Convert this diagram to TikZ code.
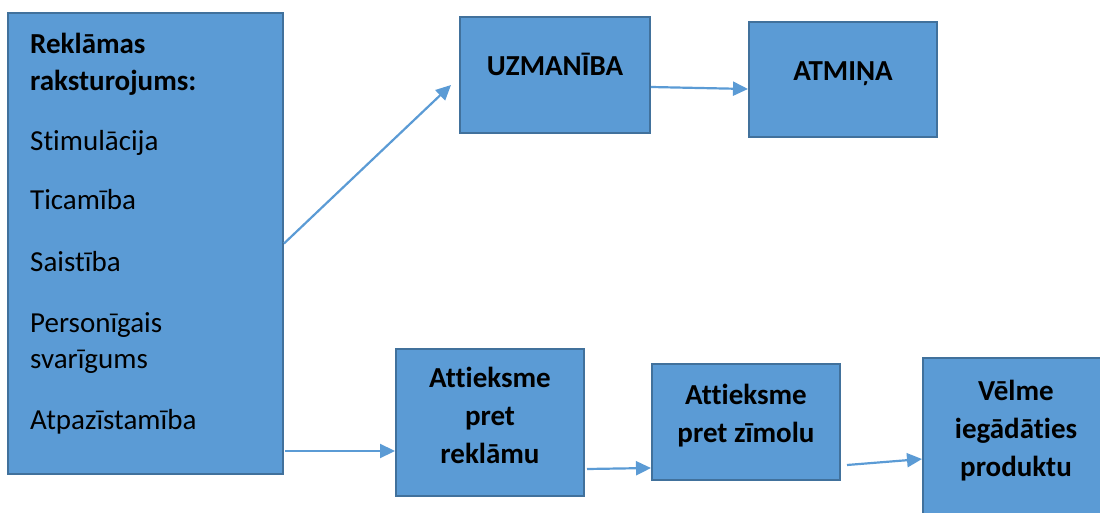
\documentclass[tikz,border=0pt]{standalone}
\usepackage{fontspec}
\setmainfont{Carlito}[Ligatures=NoCommon]
\usetikzlibrary{arrows.meta}
\definecolor{fillblue}{HTML}{5B9BD5}
\definecolor{edgeblue}{HTML}{41719C}
\begin{document}
\begin{tikzpicture}[x=1pt,y=-1pt,
  box/.style={draw=edgeblue, fill=fillblue, line width=2pt, inner sep=0pt},
  conn/.style={draw=fillblue, line width=2.2pt, -{Triangle[length=15pt,width=14pt]}},
  head/.style={font=\fontsize{29}{38}\selectfont\bfseries, align=center, anchor=base, inner sep=0pt},
  item/.style={font=\fontsize{29}{36}\selectfont, anchor=base west, inner sep=0pt},
  itemb/.style={item, font=\fontsize{29}{36}\selectfont\bfseries}]
\useasboundingbox (0,0) rectangle (1100,513);
\clip (0,0) rectangle (1100,513);
% boxes
\node[box, minimum width=275, minimum height=461] (feat) at (145.5,243.5) {};
\node[box, minimum width=190, minimum height=116] (uz) at (555,75) {};
\node[box, minimum width=188, minimum height=115] (at) at (843,79.5) {};
\node[box, minimum width=188, minimum height=147] (r) at (490,422.5) {};
\node[box, minimum width=188, minimum height=116] (z) at (746,422) {};
\node[box, minimum width=188, minimum height=162] (v) at (1017,439) {};
% texts of the left box
\node[itemb] (t1) at (30,54) {Reklāmas};
\node[itemb] (t2) at (30,91) {raksturojums:};
\node[item] (t3) at (30,151) {Stimulācija};
\node[item] (t4) at (30,210) {Ticamība};
\node[item] (t5) at (30,271) {Saistība};
\node[item] (t6) at (30,332) {Personīgais};
\node[item] (t7) at (30,368) {svarīgums};
\node[item] (t8) at (30,429) {Atpazīstamība};
% other texts
\node[head] (uzt) at (555,76) {UZMANĪBA};
\node[head] (att) at (843,81) {ATMIŅA};
\node[head] (rt) at (490,463) {Attieksme\\pret\\reklāmu};
\node[head] (zt) at (746,442) {Attieksme\\pret zīmolu};
\node[head] (vt) at (1016,476) {Vēlme\\iegādāties\\produktu};
% connectors
\draw[conn] (feat.east) -- ([xshift=-8pt,yshift=-10pt]uz.west);
\draw[conn] ([yshift=-12pt]uz.east) -- ([yshift=-9.5pt]at.west);
\draw[conn] ([xshift=1pt,yshift=-207.5pt]feat.east) -- ([yshift=-28.5pt]r.west);
\draw[conn] ([xshift=2pt,yshift=-46.5pt]r.east) -- ([yshift=-46pt]z.west);
\draw[conn] ([xshift=6pt,yshift=-43pt]z.east) -- ([yshift=-20pt]v.west);
\end{tikzpicture}
\end{document}
